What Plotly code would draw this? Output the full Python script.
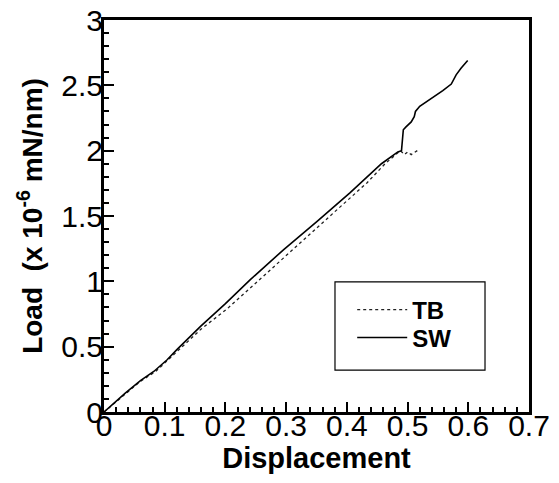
import plotly.graph_objects as go

# SW curve (solid)
sw_x = [0.0, 0.035, 0.06, 0.082, 0.104, 0.12, 0.159, 0.2, 0.241, 0.296, 0.351, 0.405,
        0.457, 0.484, 0.490, 0.491, 0.493, 0.497, 0.506, 0.511, 0.513, 0.520, 0.536,
        0.558, 0.572, 0.580, 0.588, 0.599]
sw_y = [0.0, 0.145, 0.24, 0.31, 0.40, 0.477, 0.655, 0.83, 1.013, 1.243, 1.459, 1.677,
        1.90, 1.99, 2.00, 2.04, 2.16, 2.18, 2.22, 2.26, 2.30, 2.34, 2.39,
        2.46, 2.51, 2.58, 2.63, 2.69]

# TB curve (dotted)
tb_x = [0.0, 0.035, 0.06, 0.085, 0.12, 0.16, 0.203, 0.269, 0.323, 0.378, 0.433, 0.463,
        0.488, 0.495, 0.500, 0.506, 0.516]
tb_y = [0.0, 0.14, 0.235, 0.31, 0.46, 0.635, 0.79, 1.064, 1.294, 1.524, 1.753, 1.90,
        2.0, 1.97, 1.99, 1.97, 2.00]

FONT = "Liberation Sans, Arial, Helvetica, sans-serif"

fig = go.Figure()
fig.add_trace(go.Scatter(x=tb_x, y=tb_y, mode="lines", name="TB", legend="legend",
                         line=dict(color="#222222", width=1.3, dash="dot")))
fig.add_trace(go.Scatter(x=sw_x, y=sw_y, mode="lines", name="SW", legend="legend2",
                         line=dict(color="black", width=1.6)))

axis_common = dict(
    showline=True, linecolor="black", linewidth=3, mirror=True,
    ticks="inside", ticklen=10, tickwidth=2, tickcolor="black",
    showgrid=False, zeroline=False, automargin=False,
    tickfont=dict(family=FONT, size=30, color="black"),
)

fig.update_xaxes(range=[0, 0.7], dtick=0.1, tick0=0, ticklabelstandoff=-15,
                 minor=dict(dtick=0.02, ticks="inside", ticklen=5, tickwidth=2, tickcolor="black"),
                 title=dict(text="<b>Displacement</b>", font=dict(family=FONT, size=29, color="black"),
                            standoff=4),
                 **axis_common)
fig.update_yaxes(range=[0, 3], dtick=0.5, tick0=0, ticklabelstandoff=-8,
                 minor=dict(dtick=0.1, ticks="inside", ticklen=5, tickwidth=2, tickcolor="black"),
                 title=dict(text="<b>Load  (x 10<sup>-6</sup> mN/nm)</b>",
                            font=dict(family=FONT, size=28, color="black"), standoff=11),
                 **axis_common)

fig.add_shape(type="rect", xref="paper", yref="paper",
              x0=0.5435, x1=0.8965, y0=0.107, y1=0.332,
              line=dict(color="black", width=1.2), fillcolor="white", layer="below")

leg_common = dict(xanchor="left", yanchor="middle",
                  bgcolor="rgba(0,0,0,0)", borderwidth=0,
                  font=dict(family=FONT, size=24, color="black", weight="bold"),
                  itemwidth=50)

fig.update_layout(
    width=559, height=483,
    margin=dict(l=104, r=30, t=20, b=71),
    plot_bgcolor="white", paper_bgcolor="white",
    showlegend=True,
    legend=dict(x=0.584, y=0.26, **leg_common),
    legend2=dict(x=0.584, y=0.189, **leg_common),
)

fig.write_html("out.html", post_script="document.body.style.margin='0px';",
               config={"displayModeBar": False})
